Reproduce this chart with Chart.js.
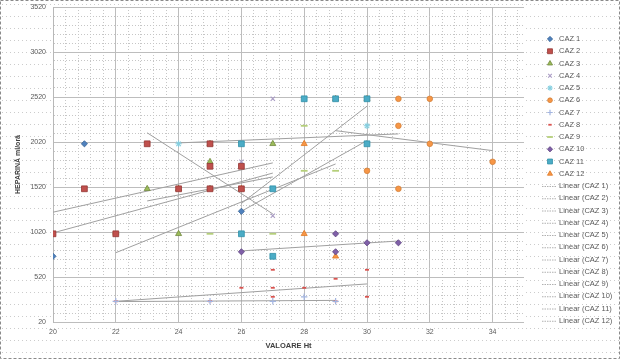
<!DOCTYPE html>
<html><head><meta charset="utf-8">
<script src="https://cdn.jsdelivr.net/npm/chart.js@4.4.0/dist/chart.umd.min.js"></script>
<style>html,body{margin:0;padding:0;background:#fff}#wrap{width:620px;height:359px;position:relative}</style>
</head><body><div id="wrap"><canvas id="c" width="620" height="359"></canvas></div>
<script>
// ---- data ----
const caseNames = ['CAZ 1','CAZ 2','CAZ 3','CAZ 4','CAZ 5','CAZ 6','CAZ 7','CAZ 8','CAZ 9','CAZ 10','CAZ 11','CAZ 12'];
const caz1Ht  = [20,21,26];              const caz1Hep  = [750,2000,1250];
const caz2Ht  = [20,21,22,23,24,25,25,25,26,26]; const caz2Hep = [1000,1500,1000,2000,1500,2000,1750,1500,1750,1500];
const caz3Ht  = [23,24,24,25,25,25,27];  const caz3Hep  = [1500,1500,1000,2000,1800,1500,2000];
const caz4Ht  = [26,27,27];              const caz4Hep  = [1800,1200,2500];
const caz5Ht  = [24,30];                 const caz5Hep  = [2000,2200];
const caz6Ht  = [30,31,31,31,32,32,34];  const caz6Hep  = [1700,1500,2200,2500,2500,2000,1800];
const caz7Ht  = [22,25,27,28,29];        const caz7Hep  = [250,250,250,300,250];
const caz8Ht  = [22,25,26,27,27,27,28,29,29,30,30]; const caz8Hep = [250,250,400,600,400,300,400,500,250,600,300];
const caz9Ht  = [22,25,27,28,28,29];     const caz9Hep  = [1000,1000,1000,2200,1700,1700];
const caz10Ht = [26,29,29,30,31];        const caz10Hep = [800,1000,800,900,900];
const caz11Ht = [26,26,27,27,28,29,30,30]; const caz11Hep = [2000,1000,1500,750,2500,2500,2500,2000];
const caz12Ht = [26,28,28,29,29,30];     const caz12Hep = [1500,2000,1000,2500,750,2500];
// linear trendlines (end values)
const trendStartHt  = [20,20,23,23,24,29,22,22,22,26,26,26];
const trendEndHt    = [27,27,27,27,31,34,29,30,29,31,30,30];
const trendStartHep = [1010,1240,1365,2122,2010,2146,247,250,790,810,1337,1250];
const trendEndHep   = [1675,1788,1632,1221,2110,1924,260,443,1776,920,2418,2036];
// axis ticks
const xTickLabels = [20,22,24,26,28,30,32,34];
const yTickLabels = [20,520,1020,1520,2020,2520,3020,3520];

const allHt  = [caz1Ht,caz2Ht,caz3Ht,caz4Ht,caz5Ht,caz6Ht,caz7Ht,caz8Ht,caz9Ht,caz10Ht,caz11Ht,caz12Ht];
const allHep = [caz1Hep,caz2Hep,caz3Hep,caz4Hep,caz5Hep,caz6Hep,caz7Hep,caz8Hep,caz9Hep,caz10Hep,caz11Hep,caz12Hep];

// ---- styles ----
const mk = [
  {ps:'rectRot', r:3.1, bg:'#4F81BD', bc:'#3A6496', bw:0.8},
  {ps:'rect', r:4.1, bg:'#C0504D', bc:'#943634', bw:0.8},
  {ps:'triangle', r:3.5, bg:'#9BBB59', bc:'#71893F', bw:0.8},
  {ps:'crossRot', r:3, bg:'#A99BC4', bc:'#A99BC4', bw:1.1},
  {ps:'star', r:3.2, bg:'#4BACC6', bc:'#86CFE0', bw:1.1},
  {ps:'circle', r:2.8, bg:'#F79646', bc:'#D2803A', bw:0.8},
  {ps:'cross', r:3.2, bg:'#A3B5E0', bc:'#A3B5E0', bw:1.2},
  {ps:'line', r:2, bg:'#D9534F', bc:'#D9534F', bw:1.8},
  {ps:'line', r:3.4, bg:'#B5CF7A', bc:'#B5CF7A', bw:1.8},
  {ps:'rectRot', r:3.1, bg:'#7F5FA8', bc:'#5F4680', bw:0.8},
  {ps:'rect', r:4.1, bg:'#4BACC6', bc:'#2F8FA8', bw:0.8},
  {ps:'triangle', r:3.5, bg:'#F79646', bc:'#E07A26', bw:0.8}
];
const trendColor = '#a0a0a0';

const datasets = [];
caseNames.forEach((n,i)=>{
  datasets.push({
    label:n, type:'scatter',
    data: allHt[i].map((x,k)=>({x:x, y:allHep[i][k]})),
    pointStyle: mk[i].ps, pointRadius: mk[i].r, pointHoverRadius: mk[i].r,
    backgroundColor: mk[i].bg, borderColor: mk[i].bc, pointBorderWidth: mk[i].bw, borderWidth: mk[i].bw,
    showLine:false
  });
});
caseNames.forEach((n,i)=>{
  datasets.push({
    label:'Linear ('+n+')', type:'line',
    data:[{x:trendStartHt[i], y:trendStartHep[i]},{x:trendEndHt[i], y:trendEndHep[i]}],
    borderColor: trendColor, borderWidth:1, pointRadius:0, fill:false, tension:0
  });
});

const FONT = 'Liberation Sans, Arial, sans-serif';

// background / border / legend plugin
const decor = {
  id:'decor',
  beforeDraw(chart){
    const c = chart.ctx, a = chart.chartArea, W = chart.width, H = chart.height;
    c.save();
    c.fillStyle = '#fff'; c.fillRect(0,0,W,H);
    c.fillStyle = '#cccccc';
    for (let y = 4; y < H; y += 12) {
      for (let x = 2; x < W; x += 4) {
        if (x >= a.left && x <= a.right && y >= a.top && y <= a.bottom) continue;
        c.fillRect(x, y, 1, 1);
      }
    }
    c.restore();
  },
  afterDraw(chart){
    const c = chart.ctx, W = chart.width, H = chart.height;
    c.save();
    c.strokeStyle = '#8a8a8a'; c.lineWidth = 1; c.setLineDash([3,2]);
    c.strokeRect(0.5,0.5,W-1,H-1);
    c.setLineDash([]);
    // legend
    const x0 = 550, y0 = 39, step = 12.25;
    c.font = '7.5px ' + FONT; c.textBaseline = 'middle'; c.textAlign = 'left';
    chart.data.datasets.forEach((ds, i) => {
      const y = y0 + i*step;
      if (ds.type === 'scatter') {
        c.fillStyle = ds.backgroundColor; c.strokeStyle = ds.borderColor; c.lineWidth = ds.pointBorderWidth;
        Chart.helpers.drawPoint(c, {pointStyle: ds.pointStyle, radius: ds.pointRadius*0.85, rotation:0, borderWidth: ds.pointBorderWidth}, x0, y);
      } else {
        c.strokeStyle = '#b0b0b0'; c.lineWidth = 1; c.setLineDash([1.5,1]);
        c.beginPath(); c.moveTo(542, y+0.5); c.lineTo(557, y+0.5); c.stroke(); c.setLineDash([]);
      }
      c.fillStyle = '#595959';
      c.fillText(ds.label, 559, y);
    });
    c.restore();
  }
};

const near = (v, arr) => arr.some(t => Math.abs(t - v) < 1e-6);

new Chart(document.getElementById('c'), {
  type:'scatter',
  data:{datasets},
  options:{
    responsive:false, animation:false, devicePixelRatio:1,
    layout:{padding:{left:0, right:96, top:7, bottom:0}},
    plugins:{legend:{display:false}, tooltip:{enabled:false}},
    scales:{
      x:{
        type:'linear', min:20, max:35,
        afterBuildTicks(s){ const t=[]; for(let k=0;k<=37;k++) t.push({value: Math.round((20+k*0.4)*10)/10}); s.ticks=t; },
        afterFit(s){ s.height = 37; s.paddingLeft = 0; s.paddingRight = 0; },
        ticks:{ autoSkip:false, maxRotation:0, padding:6, color:'#595959', font:{family:FONT, size:7},
          callback:(v)=> near(v, xTickLabels) ? String(v) : '' },
        grid:{ drawTicks:false,
          color:(ctx)=> (ctx.tick && near(ctx.tick.value, xTickLabels)) ? '#bdbdbd' : '#c6c6c6' },
        border:{ display:false, dash:(ctx)=> (ctx.tick && near(ctx.tick.value, xTickLabels)) ? [] : [1,2] },
        title:{ display:true, text:'VALOARE Ht', color:'#404040', font:{family:FONT, size:7.5, weight:'bold'}, padding:{top:0,bottom:8.5} }
      },
      y:{
        type:'linear', min:20, max:3520,
        afterBuildTicks(s){ const t=[]; for(let k=0;k<=35;k++) t.push({value: 20+k*100}); s.ticks=t; },
        afterFit(s){ s.width = 53; s.paddingTop = 0; s.paddingBottom = 0; },
        ticks:{ autoSkip:false, padding:7, color:'#595959', font:{family:FONT, size:7},
          callback:(v)=> near(v, yTickLabels) ? String(v) : '' },
        grid:{ drawTicks:false,
          color:(ctx)=> (ctx.tick && near(ctx.tick.value, yTickLabels)) ? '#bdbdbd' : '#c6c6c6' },
        border:{ display:true, color:'#b8b8b8', dash:(ctx)=> (ctx.tick && near(ctx.tick.value, yTickLabels)) ? [] : [1,2] },
        title:{ display:true, text:'HEPARINĂ ml/oră', color:'#404040', font:{family:FONT, size:7, weight:'bold'}, padding:{top:13.5,bottom:0} }
      }
    }
  },
  plugins:[decor]
});
</script></body></html>
